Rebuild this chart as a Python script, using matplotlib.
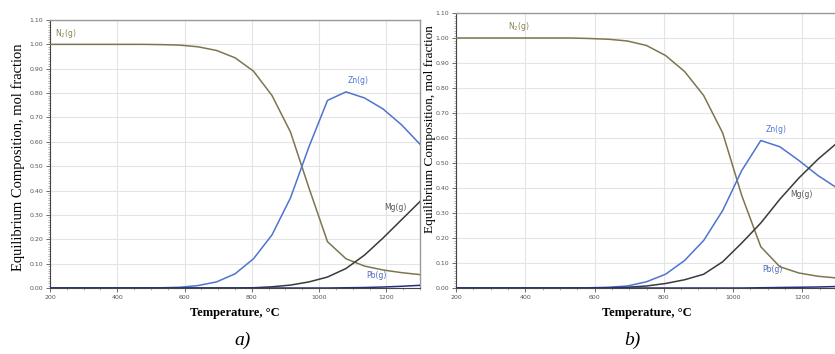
import matplotlib
matplotlib.use('Agg')

import numpy as np
import matplotlib.pyplot as plt
from matplotlib.ticker import MultipleLocator

# temperature grid, deg C
temp = [200, 255, 310, 365, 420, 475, 530, 585, 640, 695, 750,
        805, 860, 915, 970, 1025, 1080, 1135, 1190, 1245, 1300]

# panel a)
n2_a = [1.0, 1.0, 1.0, 1.0, 1.0, 1.0, 0.999, 0.997, 0.99, 0.975, 0.945,
        0.89, 0.79, 0.64, 0.41, 0.19, 0.12, 0.09, 0.074, 0.063, 0.055]
zn_a = [0.0, 0.0, 0.0, 0.0, 0.0, 0.0, 0.001, 0.003, 0.01, 0.025, 0.058,
        0.12, 0.218, 0.37, 0.58, 0.77, 0.805, 0.78, 0.735, 0.67, 0.59]
mg_a = [0.0, 0.0, 0.0, 0.0, 0.0, 0.0, 0.0, 0.0, 0.0, 0.0, 0.0,
        0.001, 0.005, 0.012, 0.025, 0.045, 0.08, 0.135, 0.205, 0.28, 0.355]
pb_a = [0.0, 0.0, 0.0, 0.0, 0.0, 0.0, 0.0, 0.0, 0.0, 0.0, 0.0,
        0.0, 0.0, 0.0, 0.0, 0.0, 0.001, 0.002, 0.004, 0.007, 0.011]

# panel b)
n2_b = [1.0, 1.0, 1.0, 1.0, 1.0, 1.0, 1.0, 0.998, 0.995, 0.988, 0.97,
        0.93, 0.866, 0.77, 0.62, 0.37, 0.165, 0.085, 0.06, 0.047, 0.04]
zn_b = [0.0, 0.0, 0.0, 0.0, 0.0, 0.0, 0.0, 0.001, 0.003, 0.008, 0.025,
        0.055, 0.11, 0.19, 0.31, 0.47, 0.59, 0.565, 0.51, 0.45, 0.40]
mg_b = [0.0, 0.0, 0.0, 0.0, 0.0, 0.0, 0.0, 0.0, 0.001, 0.003, 0.008,
        0.018, 0.033, 0.055, 0.105, 0.18, 0.26, 0.355, 0.44, 0.515, 0.58]
pb_b = [0.0, 0.0, 0.0, 0.0, 0.0, 0.0, 0.0, 0.0, 0.0, 0.0, 0.0,
        0.0, 0.0, 0.0, 0.0, 0.0, 0.001, 0.002, 0.003, 0.004, 0.006]

species = ['N$_2$(g)', 'Zn(g)', 'Mg(g)', 'Pb(g)']
colors = ['#7d7550', '#4f73d0', '#3a3a3a', '#26307a']
label_colors = ['#8a8050', '#4f73d0', '#555555', '#4f68b8']

# label positions (temperature, fraction) for each panel
labels_a = [(215, 1.035), (1085, 0.84), (1195, 0.32), (1140, 0.04)]
labels_b = [(350, 1.035), (1095, 0.625), (1165, 0.365), (1085, 0.065)]

fig = plt.figure(figsize=(8.35, 3.54), dpi=100)
W, H = 835.0, 354.0

ax_a = fig.add_axes([50 / W, 66 / H, 370 / W, 268 / H])
ax_b = fig.add_axes([456 / W, 66 / H, 381 / W, 275 / H])


def draw_panel(ax, series, labels):
    for vals, c, lc, name, (lx, ly) in zip(series, colors, label_colors, species, labels):
        ax.plot(temp, vals, color=c, lw=1.1, zorder=3)
        ax.text(lx, ly, name, color=lc, fontsize=5.5, family='DejaVu Sans', zorder=4)
    ax.set_xlim(200, 1300)
    ax.set_ylim(0, 1.1)
    ax.xaxis.set_major_locator(MultipleLocator(200))
    ax.xaxis.set_minor_locator(MultipleLocator(50))
    ax.yaxis.set_minor_locator(MultipleLocator(0.01))
    ax.set_yticks(np.arange(0, 1.101, 0.1))
    ax.set_yticklabels(['%.2f' % v for v in np.arange(0, 1.101, 0.1)])
    ax.grid(True, which='major', color='#e4e4e4', lw=0.8, zorder=0)
    ax.tick_params(which='major', labelsize=4.5, labelcolor='#555555', length=3,
                   width=0.6, color='#555555', pad=2)
    ax.tick_params(which='minor', length=1.5, width=0.4, color='#777777')
    for s in ['top', 'right']:
        ax.spines[s].set_color('#999999')
        ax.spines[s].set_linewidth(1.0)
    for s in ['left', 'bottom']:
        ax.spines[s].set_color('#444444')
        ax.spines[s].set_linewidth(0.8)
    ax.set_xlabel('Temperature, \u00b0C', family='Liberation Serif', fontsize=9,
                  fontweight='bold', labelpad=5)


draw_panel(ax_a, [n2_a, zn_a, mg_a, pb_a], labels_a)
draw_panel(ax_b, [n2_b, zn_b, mg_b, pb_b], labels_b)

fig.text(18 / W, 1 - 157 / H, 'Equilibrium Composition, mol fraction',
         family='Liberation Serif', fontsize=10.5, rotation=90, ha='center', va='center')
fig.text(430 / W, 1 - 129 / H, 'Equilibrium Composition, mol fraction',
         family='Liberation Serif', fontsize=9.5, rotation=90, ha='center', va='center')

fig.text(243 / W, 1 - 340 / H, 'a)', family='Liberation Serif', fontsize=14,
         style='italic', ha='center', va='center')
fig.text(632 / W, 1 - 340 / H, 'b)', family='Liberation Serif', fontsize=14,
         style='italic', ha='center', va='center')

fig.savefig('out.png', dpi=100)
plt.close()
